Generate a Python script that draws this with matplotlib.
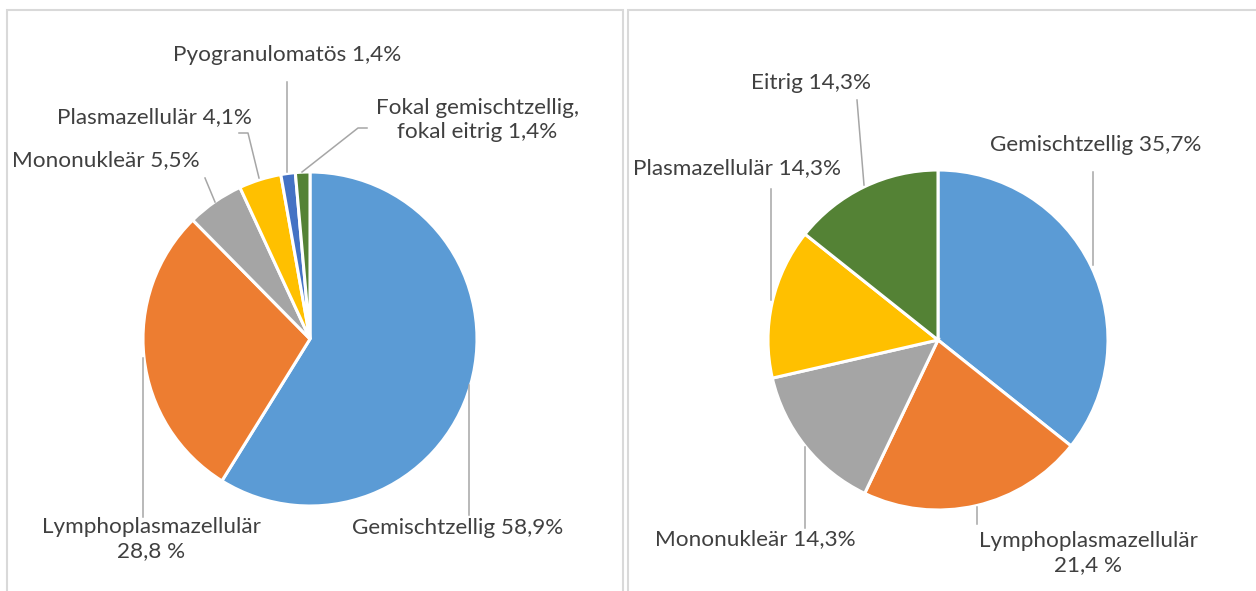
import matplotlib
matplotlib.use("Agg")
import matplotlib.pyplot as plt
from matplotlib.patches import Rectangle

W, H = 1256, 591

# --- data -----------------------------------------------------------------
left_labels = ["Gemischtzellig 58,9%", "Lymphoplasmazellulär\n28,8 %", "Mononukleär 5,5%",
               "Plasmazellulär 4,1%", "Pyogranulomatös 1,4%", "Fokal gemischtzellig,\nfokal eitrig 1,4%"]
left_values = [58.9, 28.8, 5.5, 4.1, 1.4, 1.4]
left_colors = ["#5B9BD5", "#ED7D31", "#A5A5A5", "#FFC000", "#4472C4", "#548235"]

right_labels = ["Gemischtzellig 35,7%", "Lymphoplasmazellulär\n21,4 %", "Mononukleär 14,3%",
                "Plasmazellulär 14,3%", "Eitrig 14,3%"]
right_values = [35.7, 21.4, 14.3, 14.3, 14.3]
right_colors = ["#5B9BD5", "#ED7D31", "#A5A5A5", "#FFC000", "#548235"]

# --- layout (image pixels, y pointing down) --------------------------------
left_center, left_radius = (310, 339), 167
right_center, right_radius = (938, 340), 170

left_text_pos = [(458, 528), (151, 539), (106, 160), (154, 117), (287, 55), (477, 120)]
left_leaders = [
    [(469, 385), (469, 515)],
    [(143, 358), (143, 517)],
    [(215, 202), (205, 178)],
    [(259, 178), (248, 133), (239, 133)],
    [(287, 172), (287, 82)],
    [(302, 172), (358, 128), (367, 128)],
]
right_text_pos = [(1096, 145), (1088, 553), (755, 539), (737, 168), (811, 83)]
right_leaders = [
    [(1093, 265), (1093, 172)],
    [(977, 507), (977, 524)],
    [(805, 447), (805, 528)],
    [(771, 300), (771, 189)],
    [(864, 185), (857, 100)],
]

FONT = "Lato"
TEXT_COLOR = "#404040"
LINE_COLOR = "#A6A6A6"


def Y(y):
    return H - y


fig = plt.figure(figsize=(W / 100, H / 100), dpi=100)
ax = fig.add_axes([0, 0, 1, 1])


def draw_pie(values, colors, labels, center, radius, text_pos, leaders):
    ax.pie(values, colors=colors, startangle=90, counterclock=False,
           center=(center[0], Y(center[1])), radius=radius,
           wedgeprops=dict(edgecolor="white", linewidth=2.2))
    for pts in leaders:
        ax.plot([p[0] for p in pts], [Y(p[1]) for p in pts], color=LINE_COLOR, lw=1.1)
    for lab, (x, y) in zip(labels, text_pos):
        ax.text(x, Y(y), lab, ha="center", va="center", multialignment="center",
                fontsize=16.2, family=FONT, color=TEXT_COLOR, linespacing=1.3)


draw_pie(left_values, left_colors, left_labels, left_center, left_radius,
         left_text_pos, left_leaders)
draw_pie(right_values, right_colors, right_labels, right_center, right_radius,
         right_text_pos, right_leaders)

# panel frames
for x0, x1 in [(7, 623), (628, 1266)]:
    ax.add_patch(Rectangle((x0, Y(620)), x1 - x0, 620 - 10, fill=False,
                           edgecolor="#D9D9D9", lw=1.5))

ax.set_xlim(0, W)
ax.set_ylim(0, H)
ax.set_aspect("equal")
ax.axis("off")

fig.savefig("out.png", dpi=100)
